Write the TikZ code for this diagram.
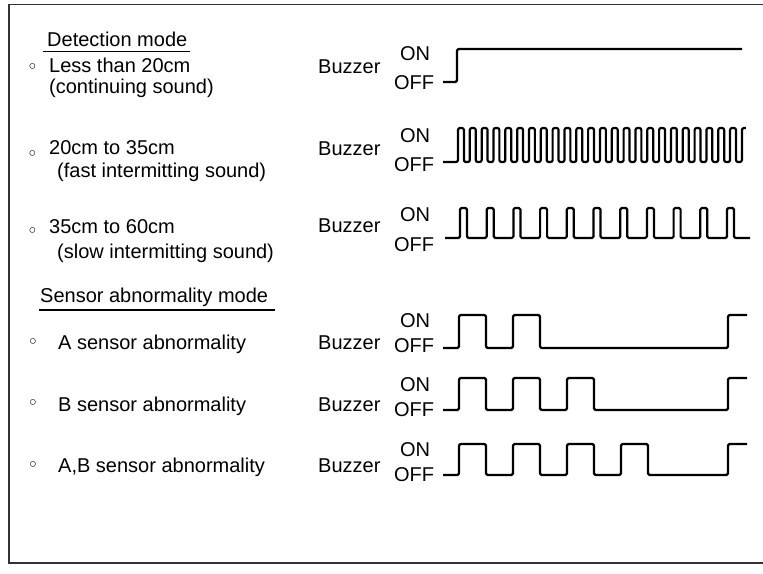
\documentclass[tikz,border=0pt]{standalone}
\usepackage{fontspec}
\setmainfont{Liberation Sans}
\newfontfamily\bulletfont{DejaVu Sans}
\begin{document}
\begin{tikzpicture}[x=1pt, y=-1pt,
    every node/.style={inner sep=0pt, anchor=base west, font=\fontsize{20}{24}\selectfont},
    bullet/.style={anchor=center, font=\bulletfont\fontsize{19}{21}\selectfont},
    level/.style={anchor=base},
    wave/.style={line width=2.2pt, line join=round, rounded corners=1.5pt}]
    \useasboundingbox (0,0) rectangle (763,573);
    \draw[line width=1.4pt, black!80] (763,4.5) -- (9,4.5) -- (9,563) -- (763,563);

    % detection mode
    \node (det) at (47,46) {Detection mode};
    \draw[line width=1.3pt] (43,51.7) -- (190,51.7);

    \node[bullet] (b1) at (32.5,69) {◦};
    \node (d1) at (49,72.5) {Less than 20cm};
    \node (d1s) at (49,93) {(continuing sound)};
    \node[bullet] (b2) at (32.5,155.5) {◦};
    \node (d2) at (49,154) {20cm to 35cm};
    \node (d2s) at (57,177) {(fast intermitting sound)};
    \node[bullet] (b3) at (32.5,232.5) {◦};
    \node (d3) at (49,233) {35cm to 60cm};
    \node (d3s) at (57,258) {(slow intermitting sound)};

    % sensor abnormality mode
    \node (sen) at (40,302.5) {Sensor abnormality mode};
    \draw[line width=1.3pt] (39,310) -- (275,310);

    \node[bullet] (b4) at (33,344) {◦};
    \node (s1) at (58,349.5) {A sensor abnormality};
    \node[bullet] (b5) at (33,405) {◦};
    \node (s2) at (58,411) {B sensor abnormality};
    \node[bullet] (b6) at (33,467) {◦};
    \node (s3) at (58,472) {A,B sensor abnormality};

    % buzzer labels
    \node (bz1) at (318,73) {Buzzer};
    \node (bz2) at (318,155) {Buzzer};
    \node (bz3) at (318,232) {Buzzer};
    \node (bz4) at (318,349) {Buzzer};
    \node (bz5) at (318,411) {Buzzer};
    \node (bz6) at (318,472) {Buzzer};

    \node[level] (on1) at (415,60) {ON};
    \node[level] (off1) at (414,89) {OFF};
    \node[level] (on2) at (415,142) {ON};
    \node[level] (off2) at (414,171) {OFF};
    \node[level] (on3) at (415,221) {ON};
    \node[level] (off3) at (414,251) {OFF};
    \node[level] (on4) at (415,327) {ON};
    \node[level] (off4) at (414,352) {OFF};
    \node[level] (on5) at (415,391) {ON};
    \node[level] (off5) at (414,416) {OFF};
    \node[level] (on6) at (415,456) {ON};
    \node[level] (off6) at (414,481) {OFF};

    % waveforms
    \coordinate (w1) at (443,82);
    \coordinate (w2) at (443,162);
    \coordinate (w3) at (445,238);
    \coordinate (w4) at (443,348);
    \coordinate (w5) at (443,410);
    \coordinate (w6) at (443,475);

    \draw[wave] (w1) -- ++(14,0) -- ++(0,-33) -- ++(285,0);
    \draw[wave, rounded corners=2pt] (w2) -- ++(15,0)
        foreach \k in {1,...,24} {-- ++(0,-34) -- ++(5.9,0) -- ++(0,34) -- ++(5.93,0)}
        -- ++(0,-34) -- ++(4,0);
    \draw[wave] (w3) -- ++(15,0)
        foreach \k in {1,...,10} {-- ++(0,-30) -- ++(7,0) -- ++(0,30) -- ++(19.7,0)}
        -- ++(0,-30) -- ++(7,0) -- ++(0,30) -- ++(16,0);
    \draw[wave] (w4) -- ++(16,0)
        foreach \k in {1,2} {-- ++(0,-33) -- ++(27,0) -- ++(0,33) -- ++(27,0)}
        -- ([xshift=285pt]w4) -- ++(0,-33) -- ++(19,0);
    \draw[wave] (w5) -- ++(16,0)
        foreach \k in {1,2,3} {-- ++(0,-32) -- ++(27,0) -- ++(0,32) -- ++(27,0)}
        -- ([xshift=285pt]w5) -- ++(0,-32) -- ++(19,0);
    \draw[wave] (w6) -- ++(16,0)
        foreach \k in {1,...,4} {-- ++(0,-31) -- ++(27,0) -- ++(0,31) -- ++(27,0)}
        -- ([xshift=285pt]w6) -- ++(0,-31) -- ++(19,0);
\end{tikzpicture}
\end{document}
